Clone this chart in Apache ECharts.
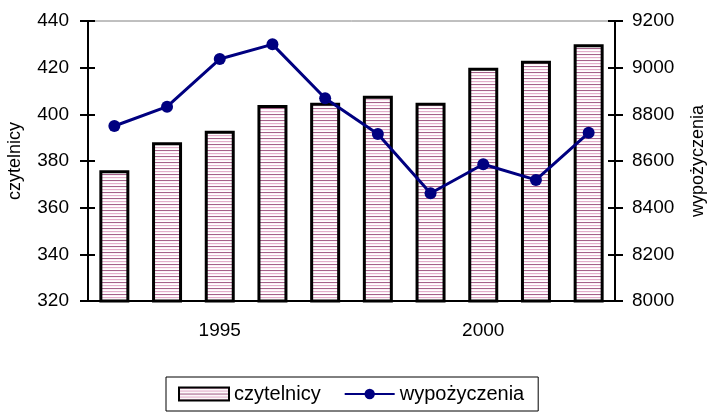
<!DOCTYPE html>
<html>
<head>
<meta charset="utf-8">
<script src="https://cdn.jsdelivr.net/npm/echarts@6/dist/echarts.min.js"></script>
<style>
html, body { margin: 0; padding: 0; background: #fff; }
#main { width: 709px; height: 412px; }
</style>
</head>
<body>
<div id="main"></div>
<script>
// dane
const years = ['1993', '1994', '1995', '1996', '1997', '1998', '1999', '2000', '2001', '2002'];
const shownYears = ['1995', '2000'];
const czytelnicy = [376, 388, 393, 404, 405, 408, 405, 420, 423, 430];
const wypozyczenia = [8750, 8833, 9037, 9100, 8869, 8716, 8462, 8586, 8519, 8721];

// wzór poziomych linii dla słupków
function stripes() {
    const c = document.createElement('canvas');
    c.width = 4; c.height = 6;
    const ctx = c.getContext('2d');
    const rows = ['#a5618a', '#fbf1f6', '#ffffff', '#e3aecb', '#fbf1f6', '#ffffff'];
    rows.forEach((col, i) => { ctx.fillStyle = col; ctx.fillRect(0, i, 4, 1); });
    return c;
}

const font = 'Liberation Sans, Arial, sans-serif';
const myEcharts = echarts.init(document.getElementById('main'));

const yBase = {
    axisLine: { show: true, lineStyle: { color: '#000', width: 2 } },
    splitLine: { show: false },
    axisLabel: { show: false }
};

const option = {
    animation: false,
    textStyle: { fontFamily: font, color: '#000' },
    grid: {
        left: 88, right: 94, top: 21, bottom: 111,
        outerBoundsMode: 'none', containLabel: false,
        show: true, borderColor: '#808080', borderWidth: 1
    },
    legend: {
        left: 166, top: 377,
        padding: [7, 14, 7, 12],
        borderColor: '#000', borderWidth: 1,
        itemWidth: 50, itemHeight: 13, itemGap: 23,
        textStyle: { fontSize: 20, fontFamily: font, color: '#000' },
        data: [{ name: 'czytelnicy', icon: 'rect' }, { name: 'wypożyczenia' }]
    },
    xAxis: [
        {
            type: 'category', data: years,
            axisLine: { lineStyle: { color: '#000', width: 2 } },
            axisTick: { interval: 0, length: 7, lineStyle: { width: 2 } },
            axisLabel: {
                interval: (i, v) => shownYears.includes(v),
                fontSize: 19, margin: 20, color: '#000'
            }
        },
        {
            type: 'category', data: years, position: 'bottom',
            axisLine: { show: false },
            axisTick: { interval: 0, inside: true, length: 5, lineStyle: { color: '#000', width: 2 } },
            axisLabel: { show: false }
        }
    ],
    yAxis: [
        {
            type: 'value', min: 320, max: 440, interval: 20, position: 'left',
            name: 'czytelnicy', nameLocation: 'middle', nameRotate: 90, nameGap: 64,
            nameTextStyle: { fontSize: 18, color: '#000' },
            axisLine: { show: true, lineStyle: { color: '#000', width: 2 } },
            axisTick: { show: true, length: 8, lineStyle: { width: 2 } },
            splitLine: { show: false },
            axisLabel: { fontSize: 19, margin: 19, color: '#000' }
        },
        {
            type: 'value', min: 8000, max: 9200, interval: 200, position: 'right',
            name: 'wypożyczenia', nameLocation: 'middle', nameRotate: 90, nameGap: 74,
            nameTextStyle: { fontSize: 18, color: '#000' },
            axisLine: { show: true, lineStyle: { color: '#000', width: 2 } },
            axisTick: { show: true, length: 8, lineStyle: { width: 2 } },
            splitLine: { show: false },
            axisLabel: { fontSize: 19, margin: 17, color: '#000', formatter: v => String(v) }
        },
        Object.assign({ type: 'value', min: 320, max: 440, interval: 20, position: 'left',
            axisTick: { show: true, inside: true, length: 7, lineStyle: { color: '#000', width: 2 } } }, yBase),
        Object.assign({ type: 'value', min: 8000, max: 9200, interval: 200, position: 'right',
            axisTick: { show: true, inside: true, length: 7, lineStyle: { color: '#000', width: 2 } } }, yBase)
    ],
    series: [
        {
            name: 'czytelnicy', type: 'bar', data: czytelnicy,
            barWidth: 30,
            itemStyle: {
                color: { image: stripes(), repeat: 'repeat' },
                borderColor: '#000', borderWidth: 3
            }
        },
        {
            name: 'wypożyczenia', type: 'line', yAxisIndex: 1, data: wypozyczenia,
            symbol: 'circle', symbolSize: 12,
            lineStyle: { color: '#000080', width: 3 },
            itemStyle: { color: '#000080' }
        }
    ]
};

myEcharts.setOption(option);
</script>
</body>
</html>
